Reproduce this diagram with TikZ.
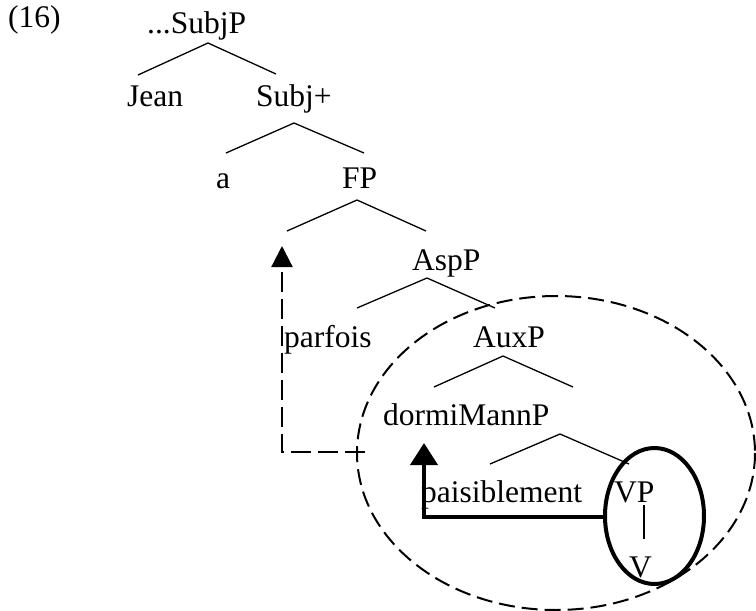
\documentclass[tikz,border=0pt]{standalone}
\usepackage{fontspec}
\setmainfont{Liberation Serif}
\usetikzlibrary{arrows.meta}
\begin{document}
\begin{tikzpicture}[x=1pt,y=-1pt,
  lbl/.style={anchor=base west,inner sep=0pt,font=\fontsize{31.5}{36}\selectfont},
  branch/.style={line width=1.3pt},
  move/.style={line width=2.2pt,dash pattern=on 20pt off 7pt},
  region/.style={line width=2pt,dash pattern=on 16pt off 7pt},
  strong/.style={line width=4pt}]
\useasboundingbox (0,0) rectangle (756,611);
% labels
\node[lbl] (ex)   at (8,27)    {(16)};
\node[lbl] (subjp) at (147,33) {...SubjP};
\node[lbl] (jean) at (127,106) {Jean};
\node[lbl] (subj) at (256,106) {Subj+};
\node[lbl] (a)    at (216,188) {a};
\node[lbl] (fp)   at (342,188) {FP};
\node[lbl] (asp)  at (412,270) {AspP};
\node[lbl] (parf) at (284,347) {parfois};
\node[lbl] (aux)  at (473,347) {AuxP};
\node[lbl] (dorm) at (383,425) {dormiMannP};
\node[lbl] (pais) at (421,502) {paisiblement};
\node[lbl] (vp)   at (614,502) {VP};
\node[lbl] (v)    at (629,577) {V};
% branch points
\coordinate (b1) at (208,43);  \coordinate (b1l) at (138,75);  \coordinate (b1r) at (276,74);
\coordinate (b2) at (294,123); \coordinate (b2l) at (226,153); \coordinate (b2r) at (364,153);
\coordinate (b3) at (357,200); \coordinate (b3l) at (287,231); \coordinate (b3r) at (426,231);
\coordinate (b4) at (427,278); \coordinate (b4l) at (357,308); \coordinate (b4r) at (495,308);
\coordinate (b5) at (503,356); \coordinate (b5l) at (434,387); \coordinate (b5r) at (573,387);
\coordinate (b6) at (560,434); \coordinate (b6l) at (490,464); \coordinate (b6r) at (629,464);
\coordinate (vt) at (644,505); \coordinate (vb) at (644,539);
\draw[branch] (b1l) -- (b1) -- (b1r);
\draw[branch] (b2l) -- (b2) -- (b2r);
\draw[branch] (b3l) -- (b3) -- (b3r);
\draw[branch] (b4l) -- (b4) -- (b4r);
\draw[branch] (b5l) -- (b5) -- (b5r);
\draw[branch] (b6l) -- (b6) -- (b6r);
\draw[line width=2pt] (vt) -- (vb);
% ellipses
\draw[region] (556,453) ellipse [x radius=199, y radius=157];
\draw[strong] (654.5,516) ellipse [x radius=49.5, y radius=68];
% movement arrows
\coordinate (m1s) at (365,452); \coordinate (m1c) at (282,452); \coordinate (m1e) at (282,246);
\draw[move,-{Triangle[length=21pt,width=21pt]}] (m1s) -- (m1c) -- (m1e);
\coordinate (m2s) at (604,517); \coordinate (m2c) at (424,517); \coordinate (m2e) at (424,443);
\draw[strong,-{Triangle[length=22pt,width=27pt]}] (m2s) -- (m2c) -- (m2e);
\end{tikzpicture}
\end{document}
